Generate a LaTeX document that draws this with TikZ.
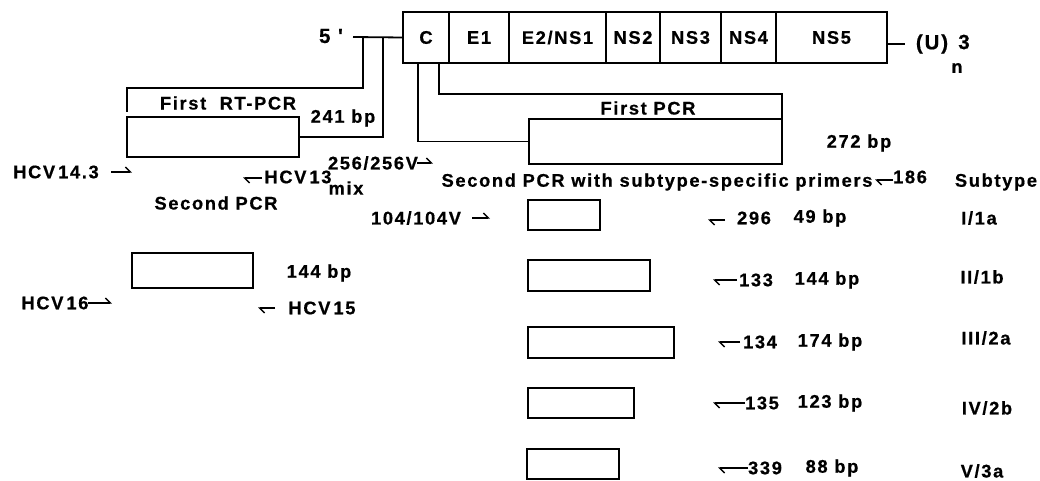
\documentclass[tikz,border=0pt]{standalone}
\usepackage{fontspec}
\setmainfont{Liberation Sans}[LetterSpace=9, BoldFeatures={FakeBold=0.6}]
\usetikzlibrary{arrows.meta}
\begin{document}
\begin{tikzpicture}[x=1pt,y=-1pt,
  every node/.style={inner sep=0pt,outer sep=0pt,font=\fontsize{18.3}{20}\selectfont\bfseries},
  big/.style={font=\fontsize{20.5}{22}\selectfont\bfseries},
  gene/.style={draw,line width=1.8pt,anchor=north west,minimum height=51pt},
  amp/.style={draw,line width=1.8pt,rectangle},
  wire/.style={line width=1.8pt},
  prim/.style={line width=1.4pt,-{Straight Barb[harpoon,length=5pt,width=10pt]}},
  lbl/.style={anchor=center}]
\useasboundingbox (0,0) rectangle (1040,481);
% genome
\node[gene,minimum width=46pt] (C) at (403,12) {C};
\node[gene,minimum width=60pt] (E1) at (449,12) {E1};
\node[gene,minimum width=97pt] (E2) at (509,12) {E2/NS1};
\node[gene,minimum width=54pt] (NS2) at (606,12) {NS2};
\node[gene,minimum width=61pt] (NS3) at (660,12) {NS3};
\node[gene,minimum width=55pt] (NS4) at (721,12) {NS4};
\node[gene,minimum width=111pt] (NS5) at (776,12) {NS5};
\node[lbl,big] (five) at (331,36) {5 \textquotesingle};
\coordinate (fiveend) at (353,37);
\draw[wire] (fiveend) -- (C.west);
\coordinate (ua) at (905,44);
\draw[wire] (NS5.east |- ua) -- (ua);
\node[lbl,big] (U) at (932,44) {(U)};
\node[lbl,big] (three) at (964,42) {3};
\node[lbl] (n) at (957,68) {n};
% first RT-PCR
\node[amp,minimum width=172pt,minimum height=40pt] (rt) at (213,137) {};
\coordinate (t1) at (363,37);
\coordinate (t2) at (383,37);
\coordinate (rtl) at (127,112);
\draw[wire] (t1) -- (363,88) -- (127,88) -- (rtl);
\draw[wire] (t2) -- (383,137) -- (rt.east);
\node[lbl] (rtlab) at (228,103) {First\ \ RT-PCR};
\node[lbl] (bp241) at (343,118) {241 bp};
\node[lbl] (h143) at (56,172) {HCV\,14.3};
\coordinate (h143a) at (111,172); \coordinate (h143b) at (132,172);
\draw[prim] (h143a) -- (h143b);
\coordinate (h13a) at (262,178); \coordinate (h13b) at (243,178);
\draw[prim] (h13a) -- (h13b);
\node[lbl] (h13) at (298,177) {HCV\,13};
\node[lbl] (mix) at (346,188) {mix};
\node[lbl] (p256) at (373,163) {256/256V};
\coordinate (p256a) at (417,163); \coordinate (p256b) at (433,163);
\draw[prim] (p256a) -- (p256b);
\node[lbl] (sec) at (216,203) {Second PCR};
% left second PCR
\node[amp,minimum width=121pt,minimum height=35pt] (s144) at (192.5,270.5) {};
\node[lbl] (bp144l) at (319,273) {144 bp};
\node[lbl] (h16) at (55,303) {HCV\,16};
\coordinate (h16a) at (88,303); \coordinate (h16b) at (112,303);
\draw[prim] (h16a) -- (h16b);
\coordinate (h15a) at (275,308); \coordinate (h15b) at (258,308);
\draw[prim] (h15a) -- (h15b);
\node[lbl] (h15) at (322,308) {HCV\,15};
% first PCR
\node[amp,minimum width=253pt,minimum height=45pt] (fp) at (655.5,141.5) {};
\coordinate (c1) at (418,63);
\coordinate (c2) at (439,63);
\draw[wire] (c2) -- (439,94) -- (782,94) -- (fp.north east);
\draw[wire] (c1) -- (418,141.5) -- (fp.west);
\node[lbl] (fplab) at (648,108) {First PCR};
\node[lbl] (bp272) at (859,143) {272 bp};
\node[lbl] (sub) at (657,182) {Second PCR with subtype-specific primers};
\coordinate (p186a) at (893,180); \coordinate (p186b) at (875,180);
\draw[prim] (p186a) -- (p186b);
\node[lbl] (n186) at (910,177) {186};
\node[lbl] (subt) at (996,182) {Subtype};
\node[lbl] (p104) at (416,218) {104/104V};
\coordinate (p104a) at (472,218); \coordinate (p104b) at (490,218);
\draw[prim] (p104a) -- (p104b);
% subtype amplicons
\node[amp,minimum width=72pt,minimum height=30pt] (b1) at (564,215) {};
\node[amp,minimum width=122pt,minimum height=31pt] (b2) at (589,275.5) {};
\node[amp,minimum width=146pt,minimum height=31pt] (b3) at (601,342.5) {};
\node[amp,minimum width=106pt,minimum height=30pt] (b4) at (581,403) {};
\node[amp,minimum width=92pt,minimum height=30pt] (b5) at (573,464) {};
\coordinate (a1) at (725,220); \coordinate (a1t) at (708,220);
\draw[prim] (a1) -- (a1t);
\node[lbl] (n296) at (754,218) {296};
\node[lbl] (bp49) at (820,218) {49 bp};
\node[lbl] (s1) at (979,218) {I/1a};
\coordinate (a2) at (737,280); \coordinate (a2t) at (713,280);
\draw[prim] (a2) -- (a2t);
\node[lbl] (n133) at (756,280) {133};
\node[lbl] (bp144) at (827,280) {144 bp};
\node[lbl] (s2) at (982,277) {II/1b};
\coordinate (a3) at (740,342); \coordinate (a3t) at (718,342);
\draw[prim] (a3) -- (a3t);
\node[lbl] (n134) at (760,342) {134};
\node[lbl] (bp174) at (830,342) {174 bp};
\node[lbl] (s3) at (986,338) {III/2a};
\coordinate (a4) at (745,403); \coordinate (a4t) at (713,403);
\draw[prim] (a4) -- (a4t);
\node[lbl] (n135) at (762,403) {135};
\node[lbl] (bp123) at (830,403) {123 bp};
\node[lbl] (s4) at (987,408) {IV/2b};
\coordinate (a5) at (748,468); \coordinate (a5t) at (718,468);
\draw[prim] (a5) -- (a5t);
\node[lbl] (n339) at (765,468) {339};
\node[lbl] (bp88) at (832,468) {88 bp};
\node[lbl] (s5) at (982,471) {V/3a};
\end{tikzpicture}
\end{document}
